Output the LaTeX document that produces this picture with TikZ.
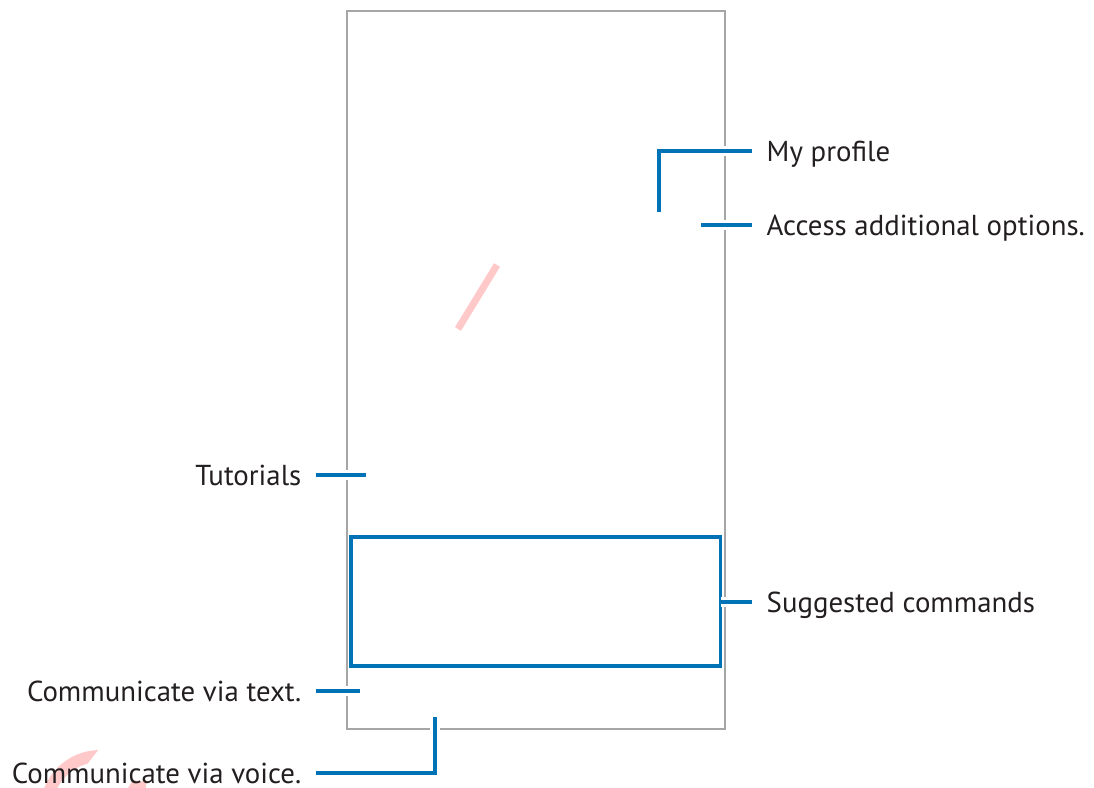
\documentclass[tikz,border=0pt]{standalone}
\usepackage{fontspec}
\setmainfont{PT Sans}
\definecolor{sblue}{RGB}{0,114,182}
\definecolor{sgray}{RGB}{166,166,166}
\definecolor{stext}{RGB}{35,31,32}
\definecolor{spink}{RGB}{255,201,201}
\begin{document}
\begin{tikzpicture}[x=0.01cm,y=-0.01cm,
  lbl/.style={font=\fontsize{8.2}{10}\selectfont, text=stext, inner xsep=0.14cm, inner ysep=0pt, text height=5.75pt, text depth=0pt},
  callout/.style={draw=sblue, line width=0.95pt, preaction={draw=white, line width=2.6pt}},
  frame/.style={draw=sgray, line width=0.45pt},
  box/.style={draw=sblue, line width=0.95pt},
]
\useasboundingbox (0,0) rectangle (1094,788);
% watermark fragments
\draw[spink, line width=2pt] (458,329) -- (497,265);
\begin{scope}
  \clip (0,740) -- (106,740) -- (67,790) -- (0,790) -- cycle;
  \draw[spink, line width=3.4pt] (100,810) circle[radius=54];
\end{scope}
\fill[spink] (128,788) -- (133,780) -- (146,782) -- (146,788) -- cycle;
% phone frame
\draw[frame] (347,11) rectangle (725,729);
% suggested commands box
\coordinate (sbA) at (351,537);
\coordinate (sbB) at (720.5,666);
\draw[box] (sbA) rectangle (sbB);
% labels
\node[lbl, anchor=west] (myprof) at (752,151) {My profile};
\node[lbl, anchor=west] (access) at (752,225) {Access additional options.};
\node[lbl, anchor=west] (sugg) at (752,602) {Suggested commands};
\node[lbl, anchor=east] (tut) at (316,475) {Tutorials};
\node[lbl, anchor=east] (ctext) at (316,691) {Communicate via text.};
\node[lbl, anchor=east] (cvoice) at (316,773) {Communicate via voice.};
% connector ends
\coordinate (profpt) at (659,212);
\coordinate (accpt) at (701,225);
\coordinate (suggpt) at (720.5,602);
\coordinate (tutpt) at (366,475);
\coordinate (ctextpt) at (360,691);
\coordinate (cvoicept) at (435,717);
\draw[callout] (profpt) |- (myprof.west);
\draw[callout] (accpt) -- (access.west);
\draw[callout] (suggpt) -- (sugg.west);
\draw[callout] (tut.east) -- (tutpt);
\draw[callout] (ctext.east) -- (ctextpt);
\draw[callout] (cvoice.east) -| (cvoicept);
\end{tikzpicture}
\end{document}
